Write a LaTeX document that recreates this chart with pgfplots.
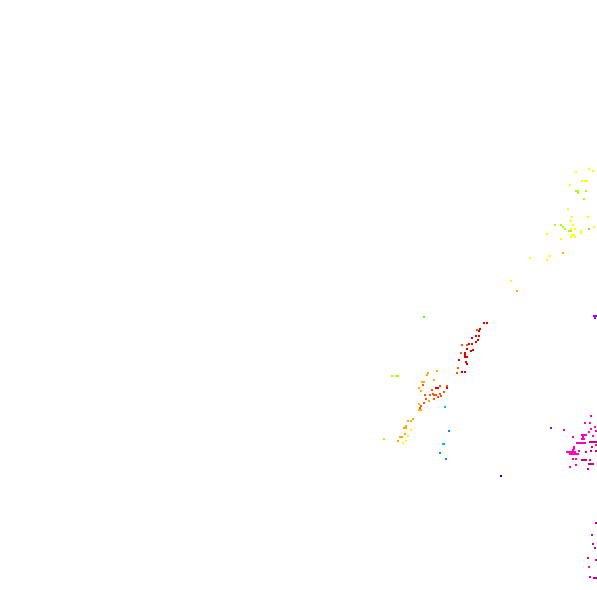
\documentclass[border=0pt]{standalone}
\usepackage{pgfplots}
\pgfplotsset{compat=1.18}
\definecolor{cyel}{HTML}{FFFF00}
\definecolor{clim}{HTML}{AAFF00}
\definecolor{cgrn}{HTML}{55FF00}
\definecolor{corg}{HTML}{FFAA00}
\definecolor{cred}{HTML}{DD0000}
\definecolor{cror}{HTML}{FF5500}
\definecolor{ccya}{HTML}{00BBFF}
\definecolor{cblu}{HTML}{0088FF}
\definecolor{cnav}{HTML}{0000DD}
\definecolor{cpur}{HTML}{9900FF}
\definecolor{cmag}{HTML}{FF00BB}
\definecolor{cdrk}{HTML}{CC0088}
\pgfplotsset{pix/.style={only marks,mark=square*,mark size=0.75pt,color=#1,fill=#1,line width=0pt,mark options={solid,line width=0pt,draw=#1,fill=#1}}}
\begin{document}
\begin{tikzpicture}
\useasboundingbox (0,0) rectangle (597pt,589pt);
\begin{axis}[
    at={(0,0)}, anchor=south west,
    scale only axis, width=597pt, height=589pt,
    xmin=0, xmax=597, ymin=0, ymax=589,
    y dir=reverse,
    hide axis,
]
\addplot[pix=cyel] coordinates {(589,169)(593,171)(576,172)(582,181)(585,181)(587,181)(570,185)(568,209)(572,217)(588,217)(571,221)(573,225)(594,227)(571,229)(575,229)(581,231)(581,233)(547,234)(572,235)(574,235)(575,237)(571,237)(561,239)(550,256)(530,258)(547,260)(511,281)(411,430)(408,436)(406,441)(403,443)};
\addplot[pix=clim] coordinates {(576,191)(578,191)(578,193)(586,191)(584,199)(555,225)(561,225)(563,227)(565,229)(569,231)(571,231)(392,376)(396,376)(398,376)(384,439)};
\addplot[pix=cgrn] coordinates {(424,317)};
\addplot[pix=corg] coordinates {(589,229)(563,253)(517,291)(437,371)(428,373)(427,375)(422,382)(424,382)(434,380)(419,388)(421,391)(429,401)(419,404)(419,410)(421,410)(413,419)(408,421)(411,421)(406,426)(404,428)(406,428)(405,434)(400,437)(402,437)(398,441)};
\addplot[pix=cror] coordinates {(477,330)(462,345)(467,345)(461,353)(458,368)(457,373)(423,385)(447,386)(440,386)(432,390)(444,392)(425,395)(430,395)(433,394)(434,395)(436,395)(440,394)(441,396)(438,397)(426,399)(434,399)(424,403)(421,406)(420,408)};
\addplot[pix=cred] coordinates {(484,323)(487,323)(480,329)(479,331)(476,336)(479,336)(472,338)(478,340)(476,342)(469,344)(472,344)(467,349)(471,351)(473,350)(465,353)(465,355)(465,357)(467,357)(459,360)(466,362)(467,364)(462,372)(465,372)(436,388)(438,388)(447,388)};
\addplot[pix=ccya] coordinates {(445,407)(443,444)(444,444)};
\addplot[pix=cblu] coordinates {(449,431)(440,453)(446,459)};
\addplot[pix=cnav] coordinates {(501,476)};
\addplot[pix=cpur] coordinates {(594,316)(596,316)(595,318)(551,428)};
\addplot[pix=cmag] coordinates {(591,416)(585,423)(590,423)(595,427)(591,429)(589,432)(596,431)(564,430)(582,435)(584,435)(586,435)(583,437)(593,436)(573,437)(582,439)(584,439)(577,443)(579,443)(581,443)(583,443)(585,443)(574,447)(574,449)(596,445)(567,452)(569,452)(571,452)(573,452)(575,452)(573,450)(579,451)(570,454)(572,454)(574,454)(576,454)(578,454)(573,459)(576,459)(576,465)(570,467)(589,567)};
\addplot[pix=cdrk] coordinates {(590,442)(592,442)(594,442)(596,442)(592,447)(591,451)(596,451)(586,452)(582,460)(584,460)(586,460)(590,460)(589,464)(591,464)(593,464)(588,469)(596,523)(592,535)(593,544)(595,548)(588,558)(596,560)(590,577)(594,578)(596,578)};
\end{axis}
\end{tikzpicture}
\end{document}
